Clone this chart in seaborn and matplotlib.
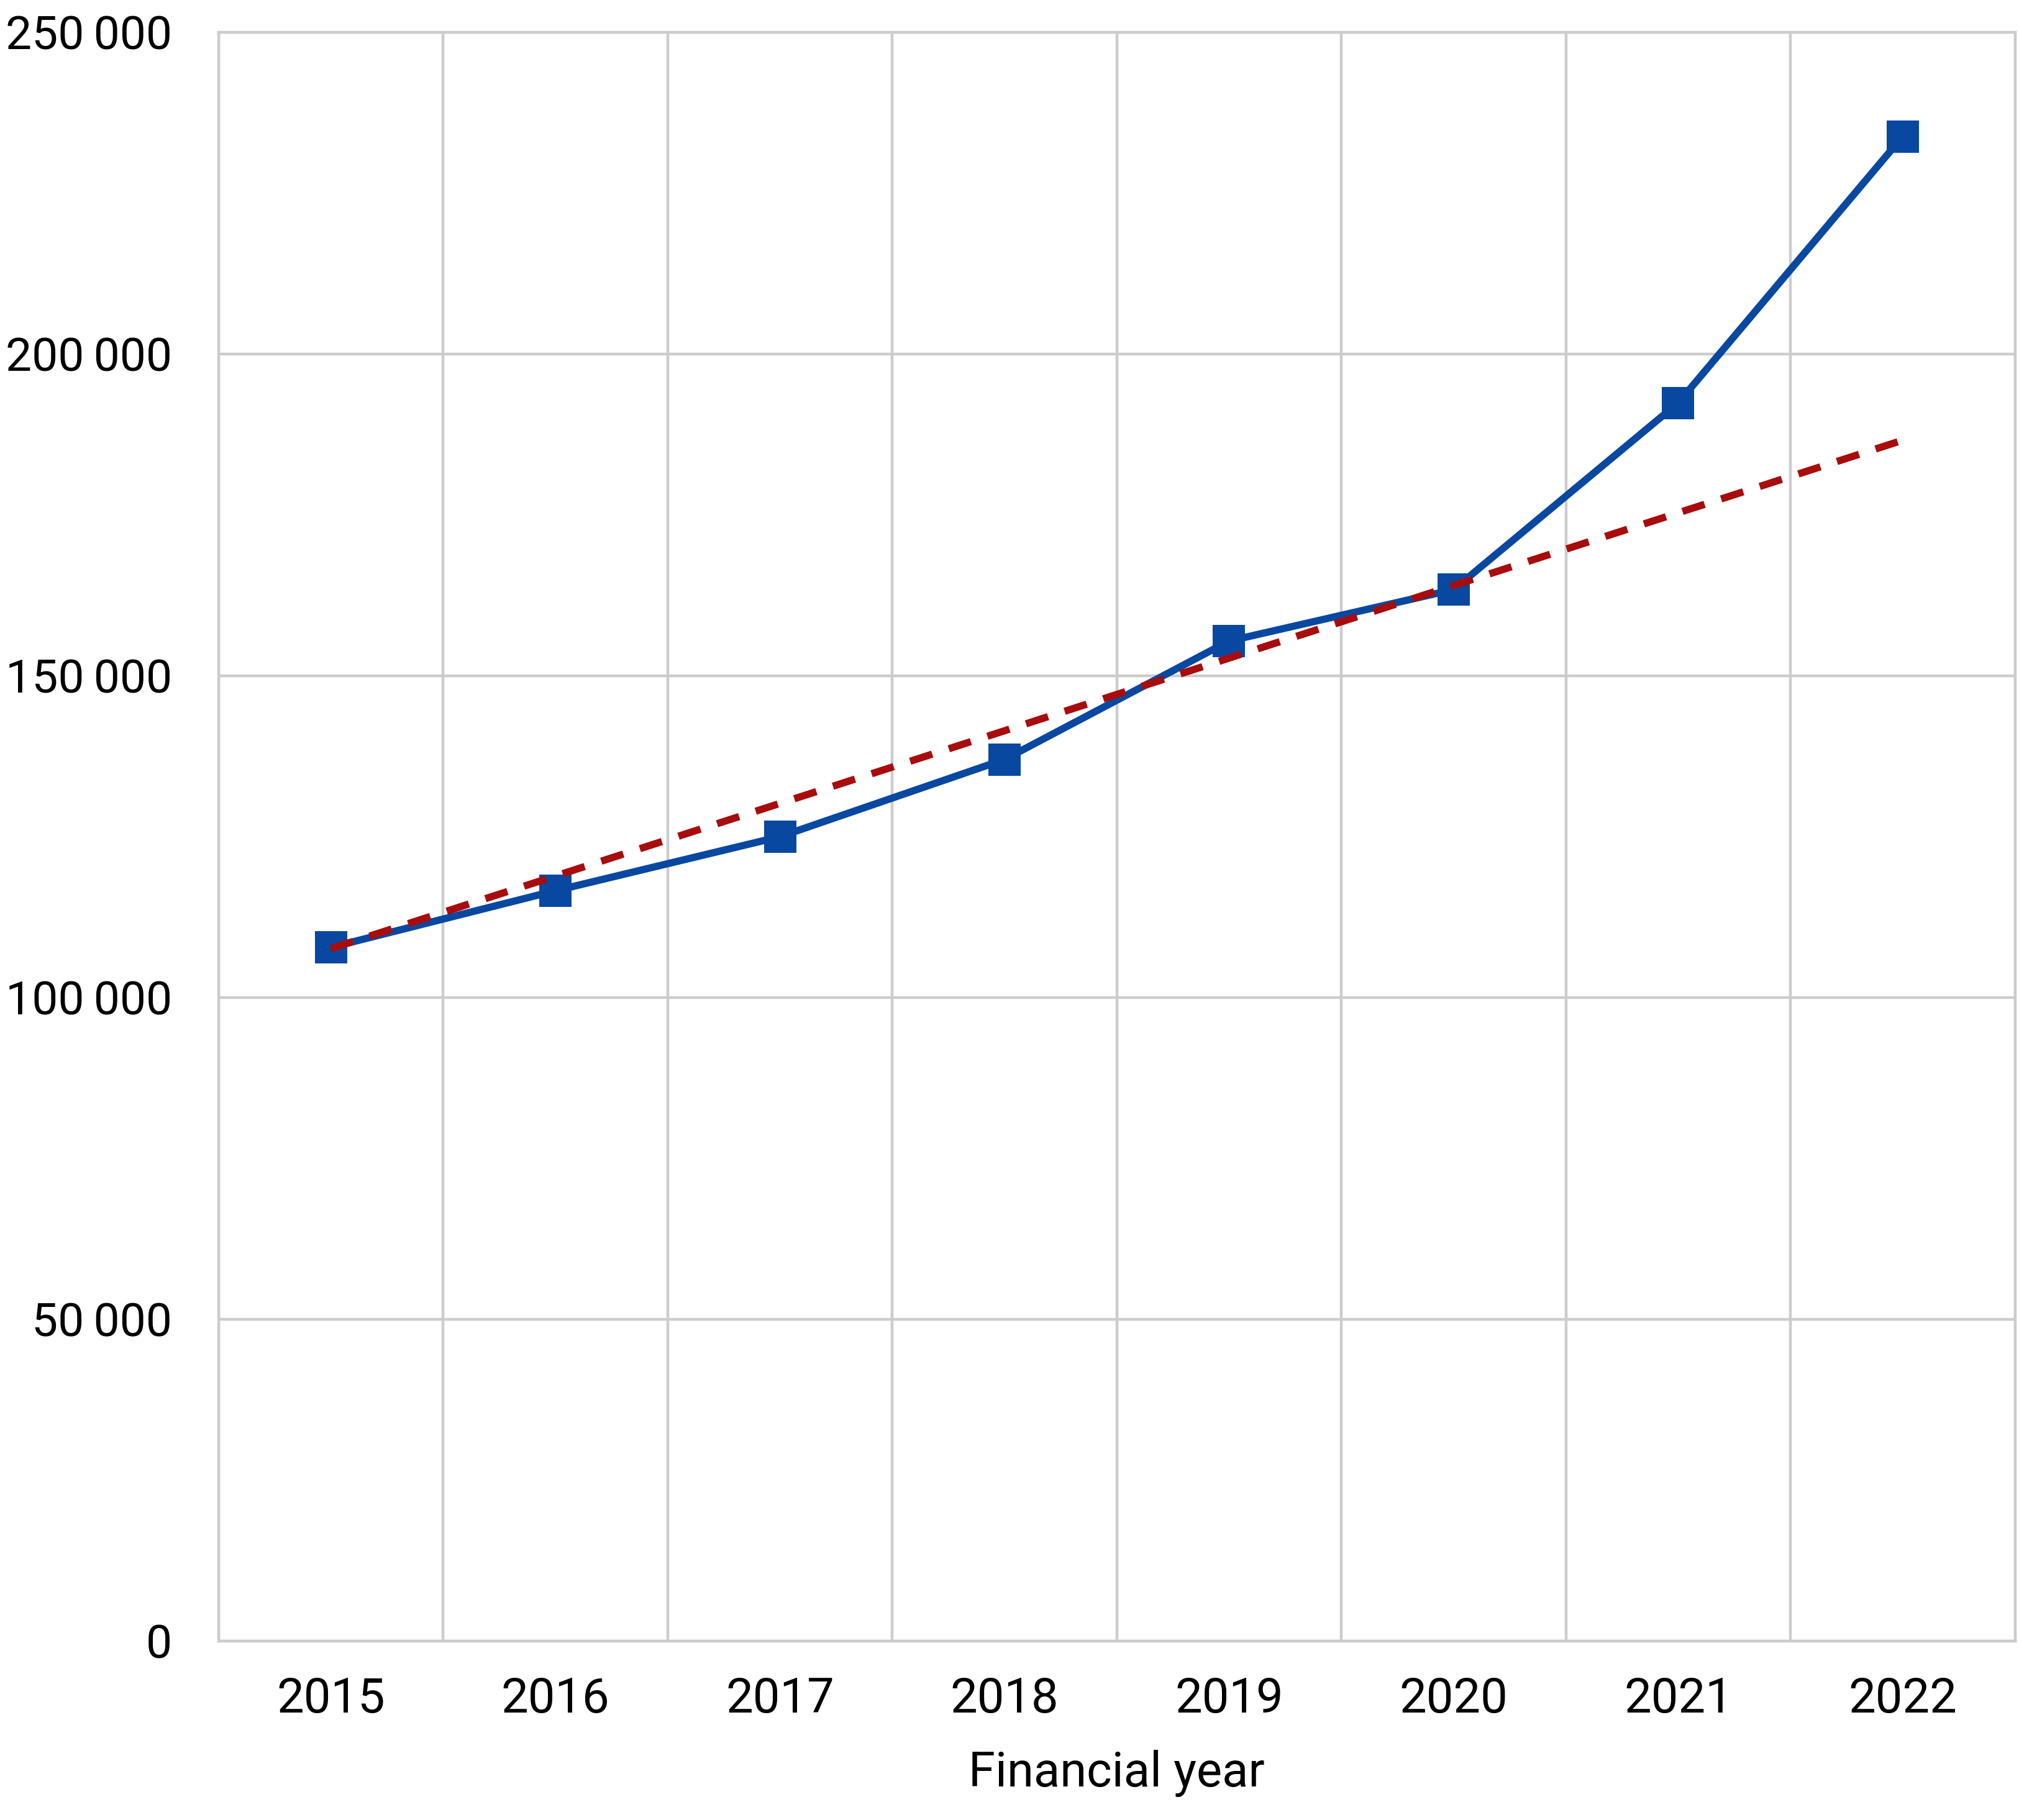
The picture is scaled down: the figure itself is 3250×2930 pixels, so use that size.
import numpy as np
import pandas as pd
import matplotlib.pyplot as plt
import seaborn as sns
from matplotlib.ticker import FuncFormatter, MultipleLocator

# values
years = [2015, 2016, 2017, 2018, 2019, 2020, 2021, 2022]
counts = [107800, 116600, 125000, 137000, 155400, 163400, 192400, 233800]

# dashed trend line, end points
trend_years = [2015, 2022]
trend_counts = [107600, 186600]

y_ticks = [0, 50000, 100000, 150000, 200000, 250000]

sns.set_theme(style='white')
plt.rcParams['font.family'] = ['Roboto', 'DejaVu Sans']

grid_col = '#cccccc'
blue = '#0848a0'
red = '#a80c0c'

fig = plt.figure(figsize=(16.25, 14.65), dpi=200)
ax = fig.add_axes([0.1083, 0.0983, 0.8897, 0.884])

df = pd.DataFrame({'year': years, 'count': counts})
tr = pd.DataFrame({'year': trend_years, 'count': trend_counts})

sns.lineplot(data=df, x='year', y='count', ax=ax, color=blue, linewidth=4.2,
             marker='s', markersize=19, markeredgewidth=0, zorder=3)
sns.lineplot(data=tr, x='year', y='count', ax=ax, color=red, linewidth=4.2,
             dashes=False, zorder=4)
ax.lines[-1].set_dashes([3.2, 2.4])

ax.set_xlim(years[0] - 0.5, years[-1] + 0.5)
ax.set_ylim(0, 250000)
ax.set_xticks(years)
ax.set_xticklabels([str(y) for y in years])
ax.xaxis.set_minor_locator(MultipleLocator(1, offset=0.5))
ax.set_yticks(y_ticks)
ax.yaxis.set_major_formatter(FuncFormatter(lambda v, p: f'{int(v):,}'.replace(',', '\u2009')))

ax.grid(True, which='minor', axis='x', color=grid_col, linewidth=1.6)
ax.grid(True, which='major', axis='y', color=grid_col, linewidth=1.6)
ax.grid(False, which='major', axis='x')
for s in ax.spines.values():
    s.set_color(grid_col)
    s.set_linewidth(1.6)

ax.tick_params(axis='both', which='both', length=0, colors='black')
ax.tick_params(axis='y', labelsize=27, pad=27)
ax.tick_params(axis='x', labelsize=28, pad=20)

ax.set_xlabel('Financial year', fontsize=28, labelpad=16, color='black')
ax.set_ylabel('')

fig.savefig('out.png', dpi=200)
